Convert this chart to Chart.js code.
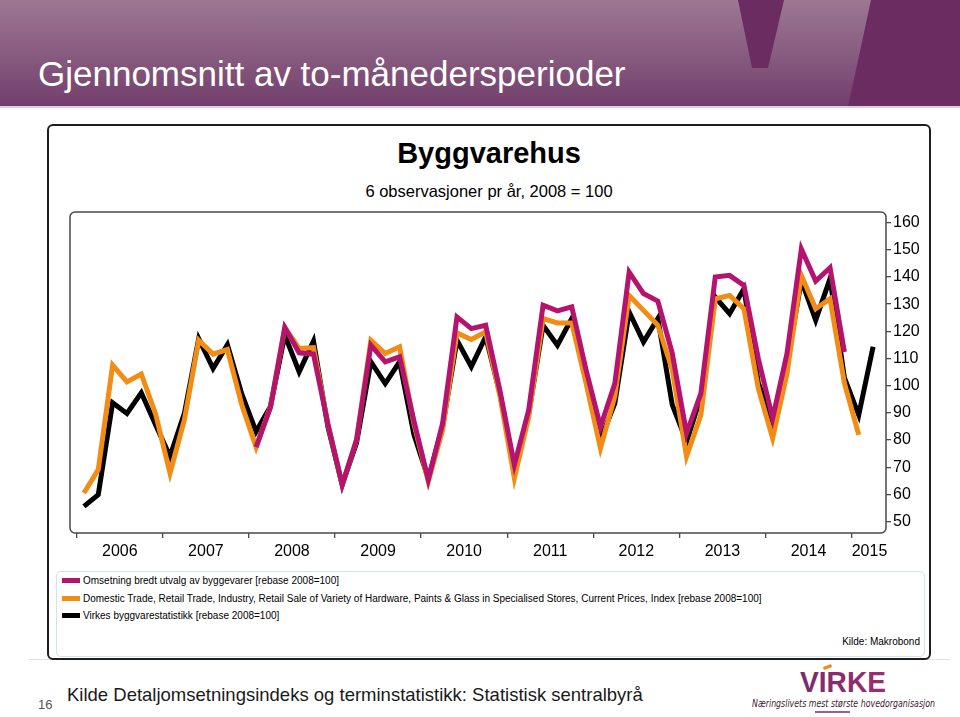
<!DOCTYPE html>
<html>
<head>
<meta charset="utf-8">
<script src="https://cdn.jsdelivr.net/npm/chart.js@4/dist/chart.umd.min.js"></script>
<style>
  html, body { margin:0; padding:0; }
  body { width:960px; height:717px; position:relative; overflow:hidden; background:#fff; font-family:'Liberation Sans', Arial, sans-serif; }
  .abs { position:absolute; white-space:nowrap; line-height:1; }
  #header { position:absolute; left:0; top:0; width:960px; height:107px; background:linear-gradient(180deg, #9d7794 0%, #8a5f82 45%, #723e6c 100%); }
  #hline { position:absolute; left:0; top:106px; width:960px; height:2px; background:#e6cbe0; }
  #outer { position:absolute; left:47px; top:124px; width:880px; height:532px; border:2px solid #1e1e1e; border-radius:6px; }
  #legbox { position:absolute; left:56px; top:571px; width:867px; height:84px; border:1px solid #d3e3e8; border-radius:5px; }
  .sw { position:absolute; width:18px; height:5px; }
  .lt { font-size:10px; color:#000; }
  canvas { position:absolute; left:0; top:0; }
</style>
</head>
<body>
<div id="header">
  <svg width="960" height="107" style="position:absolute;left:0;top:0">
    <polygon points="738,0 784,0 768,68 752,68" fill="#6a2c61"/>
    <polygon points="871,0 960,0 960,107 848,107" fill="#6a2c61"/>
  </svg>
  <div class="abs" style="left:38px; top:56px; font-size:35px; color:#fff;">Gjennomsnitt av to-månedersperioder</div>
</div>
<div id="hline"></div>
<div style="position:absolute;left:28px;top:659px;width:922px;height:1px;background:#e2e2e2"></div>
<div id="outer"></div>
<div class="abs" style="left:48px; width:882px; text-align:center; top:139px; font-size:29px; font-weight:bold; color:#000;">Byggvarehus</div>
<div class="abs" style="left:48px; width:882px; text-align:center; top:183px; font-size:16.5px; color:#000;">6 observasjoner pr år, 2008 = 100</div>
<div id="legbox"></div>
<div id="legend"></div>
<div class="abs" style="right:40px; top:637px; font-size:10px; color:#000;">Kilde: Makrobond</div>
<div class="abs" style="left:38px; top:698px; font-size:13px; color:#555;">16</div>
<div class="abs" style="left:67px; top:686px; font-size:18.5px; color:#1a1a1a;">Kilde Detaljomsetningsindeks og terminstatistikk: Statistisk sentralbyrå</div>
<!-- Virke logo -->
<svg width="200" height="60" style="position:absolute;left:750px;top:657px">
  <defs>
    <linearGradient id="vg" x1="0" y1="0" x2="1" y2="0">
      <stop offset="0" stop-color="#7a2a6c"/><stop offset="1" stop-color="#9a2d72"/>
    </linearGradient>
  </defs>
  <polygon points="73,10 81,7 82,10 74,13" fill="#f08a1c"/>
  <text x="50" y="35" font-family="Liberation Sans, Arial" font-weight="bold" font-size="30" fill="url(#vg)" textLength="86" lengthAdjust="spacingAndGlyphs">VIRKE</text>
  <text x="2" y="50" font-family="DejaVu Sans, Arial" font-style="italic" font-size="10" fill="#3a2236" textLength="183" lengthAdjust="spacingAndGlyphs">Næringslivets mest største hovedorganisasjon</text>
  <line x1="65" y1="55" x2="100" y2="55" stroke="#7a2a6c" stroke-width="1.5"/>
</svg>
<canvas id="c" width="960" height="717"></canvas>
<script>
// ---- Data (two-month averages, Jan-Feb 2006 .. Mar-Apr 2015) ----
const YEAR_LABELS = ['2006','2007','2008','2009','2010','2011','2012','2013','2014','2015'];
const Y_TICKS = [50,60,70,80,90,100,110,120,130,140,150,160];
const SERIES_NAMES = [
  'Omsetning bredt utvalg av byggevarer [rebase 2008=100]',
  'Domestic Trade, Retail Trade, Industry, Retail Sale of Variety of Hardware, Paints & Glass in Specialised Stores, Current Prices, Index [rebase 2008=100]',
  'Virkes byggvarestatistikk [rebase 2008=100]'
];
const omsetning = [
  null,null,null,null,null,null,
  null,null,null,null,null,null,
  77.4,92,121.4,112.1,111.6,86,
  63.5,80.1,114.9,108.8,110.6,87,
  65.4,86.2,125.3,121,122.2,98,
  70.9,91.1,129.6,127.5,129,105.7,
  84.9,100.8,141.8,133.9,131.1,112,
  82.5,97.2,140,140.6,136.9,110,
  88,111.8,150.3,138.5,143.4,112.4,
  null,null
];
const domestic = [
  60.5,69.1,107.6,101.4,104.3,89.5,
  67.8,87.4,116.7,111.6,113.3,93,
  77.4,92.3,121.4,113.7,114,86,
  63.5,80,116.7,111.8,114.3,86,
  64.8,83.7,119.4,117,119.8,96,
  66,88.6,124.7,123.1,123.1,100.8,
  77,96,133.2,127.7,122.2,106,
  74,89.2,132,133.2,128.3,99,
  80.7,104.5,140.6,128.3,132,101,
  81.9,null
];
const virke = [
  55.6,59.9,93.7,89.8,97.4,85.5,
  74,89.8,117.3,106.3,115.1,97,
  83.1,92.3,118.6,105.1,116.4,85,
  63.5,79,108.8,100.8,108.8,82,
  65.8,85,116.7,107,118,97,
  69.1,89.8,122.2,114.9,124.7,102,
  80.1,93.5,127.1,116.1,124.7,93,
  79.4,96,132.6,126.5,135.7,101,
  86.8,108.2,138.7,124.1,139.4,103,
  89.2,114.3
];
const COLORS = ['#b4136e', '#f28c14', '#000000'];

// year boundaries (tick marks) and label centres, in period-index units
const YEAR_BOUNDS = [-0.5, 5.5, 11.5, 17.5, 23.5, 29.5, 35.5, 41.5, 47.5, 53.5];
const YEAR_CENTRES = [2.5, 8.5, 14.5, 20.5, 26.5, 32.5, 38.5, 44.5, 50.5, 54.75];

const toXY = arr => arr.map((v, i) => ({x: i, y: v}));
const seriesList = [omsetning, domestic, virke];

// legend (HTML)
const leg = document.getElementById('legend');
const rowY = [575, 593, 610];
SERIES_NAMES.forEach((name, k) => {
  const sw = document.createElement('div');
  sw.className = 'sw';
  sw.style.left = '62px'; sw.style.top = (rowY[k] + 2.5) + 'px'; sw.style.background = COLORS[k];
  leg.appendChild(sw);
  const t = document.createElement('div');
  t.className = 'abs lt';
  t.style.left = '83px'; t.style.top = (rowY[k] + 0.5) + 'px';
  t.textContent = name;
  leg.appendChild(t);
});

const plotBox = {
  id: 'plotBox',
  beforeDatasetsDraw(chart) {
    const a = chart.chartArea, ctx = chart.ctx;
    ctx.save();
    ctx.strokeStyle = '#4a4a4a';
    ctx.lineWidth = 1.5;
    ctx.beginPath();
    ctx.roundRect(a.left, a.top, a.right - a.left, a.bottom - a.top, 5);
    ctx.stroke();
    ctx.restore();
  }
};

const FONT = {family: "'Liberation Sans', Arial, sans-serif", size: 16};

new Chart(document.getElementById('c'), {
  type: 'line',
  data: {
    datasets: seriesList.map((arr, k) => ({
      label: SERIES_NAMES[k],
      data: toXY(arr),
      borderColor: COLORS[k],
      backgroundColor: COLORS[k],
      borderWidth: 5,
      pointRadius: 0,
      tension: 0,
      spanGaps: false,
      borderJoinStyle: 'miter',
      borderCapStyle: 'butt'
    }))
  },
  options: {
    responsive: false,
    animation: false,
    devicePixelRatio: 1,
    layout: { padding: { left: 70, top: 212, right: 30, bottom: 148 } },
    plugins: { legend: { display: false }, tooltip: { enabled: false }, title: { display: false } },
    scales: {
      x: {
        type: 'linear', position: 'bottom', min: -0.97, max: 55.9,
        afterBuildTicks: s => { s.ticks = YEAR_BOUNDS.map(v => ({value: v})); },
        afterFit: s => { s.height = 6; },
        ticks: { autoSkip: false, callback: () => '', font: FONT },
        grid: { drawOnChartArea: false, drawTicks: true, tickLength: 5, color: '#4a4a4a', lineWidth: 1.3 },
        border: { display: false }
      },
      x2: {
        type: 'linear', position: 'bottom', min: -0.97, max: 55.9,
        afterBuildTicks: s => { s.ticks = YEAR_CENTRES.map(v => ({value: v})); },
        afterFit: s => { s.height = 30; },
        ticks: { autoSkip: false, maxRotation: 0, padding: 3, color: '#000', font: FONT,
                 callback: (v, i) => YEAR_LABELS[i] },
        grid: { display: false, drawTicks: false },
        border: { display: false }
      },
      y: {
        type: 'linear', position: 'right', min: 45.8, max: 163.9,
        afterBuildTicks: s => { s.ticks = Y_TICKS.map(v => ({value: v})); },
        afterFit: s => { s.width = 44; },
        ticks: { autoSkip: false, padding: 2, color: '#000', font: FONT },
        grid: { drawOnChartArea: false, drawTicks: true, tickLength: 5, color: '#4a4a4a', lineWidth: 1.3 },
        border: { display: false }
      }
    }
  },
  plugins: [plotBox]
});
</script>
</body>
</html>
